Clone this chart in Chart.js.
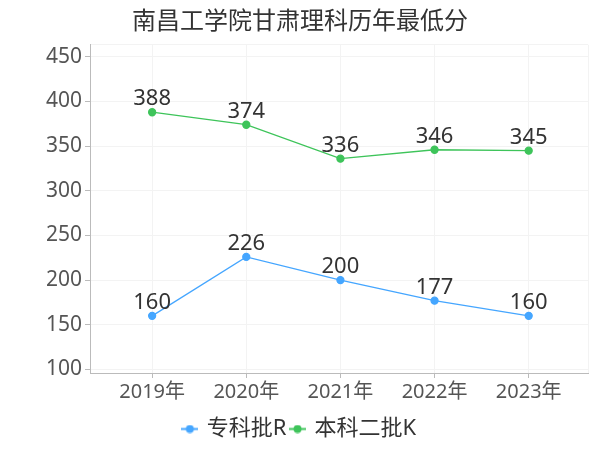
<!DOCTYPE html>
<html>
<head>
<meta charset="utf-8">
<script src="https://cdn.jsdelivr.net/npm/chart.js@4/dist/chart.umd.min.js"></script>
<style>
  html, body { margin: 0; padding: 0; background: #fff; }
  #wrap { width: 600px; height: 450px; }
</style>
</head>
<body>
<div id="wrap"><canvas id="chart" width="600" height="450"></canvas></div>
<script>
// ===== chart data =====
const years = ["2019年", "2020年", "2021年", "2022年", "2023年"];
const zhuanke = [160, 226, 200, 177, 160];   // 专科批R
const benke2 = [388, 374, 336, 346, 345];    // 本科二批K
const yTicks = [100, 150, 200, 250, 300, 350, 400, 450];

const FONT = "'Noto Sans', 'Noto Sans CJK SC', sans-serif";
const BLUE = "#45a6ff";
const GREEN = "#3ec45a";

// legend icon: short line with a dot
function legendIcon(color) {
  const c = document.createElement("canvas");
  c.width = 17; c.height = 9;
  const g = c.getContext("2d");
  g.strokeStyle = color;
  g.lineWidth = 2;
  g.beginPath(); g.moveTo(0, 4.5); g.lineTo(17, 4.5); g.stroke();
  g.fillStyle = color;
  g.beginPath(); g.arc(8.5, 4.5, 4, 0, Math.PI * 2); g.fill();
  return c;
}

// value labels above points
const valueLabels = {
  id: "valueLabels",
  afterDatasetsDraw(chart) {
    const ctx = chart.ctx;
    ctx.save();
    ctx.font = "22px " + FONT;
    ctx.fillStyle = "#333";
    ctx.textAlign = "center";
    ctx.textBaseline = "bottom";
    chart.data.datasets.forEach((ds, i) => {
      chart.getDatasetMeta(i).data.forEach((pt, j) => {
        ctx.fillText(String(ds.data[j].y), pt.x, pt.y - 2);
      });
    });
    ctx.restore();
  }
};

const toPoints = arr => arr.map((v, i) => ({ x: i, y: v }));

new Chart(document.getElementById("chart"), {
  type: "line",
  data: {
    datasets: [
      {
        label: "专科批R",
        data: toPoints(zhuanke),
        borderColor: BLUE,
        backgroundColor: BLUE,
        borderWidth: 1.3,
        pointRadius: 3.5,
        pointHoverRadius: 3.5,
        tension: 0
      },
      {
        label: "本科二批K",
        data: toPoints(benke2),
        borderColor: GREEN,
        backgroundColor: GREEN,
        borderWidth: 1.3,
        pointRadius: 3.5,
        pointHoverRadius: 3.5,
        tension: 0
      }
    ]
  },
  options: {
    responsive: false,
    animation: false,
    layout: { padding: { left: 12, right: 12, top: 0, bottom: 0 } },
    scales: {
      x: {
        type: "linear",
        min: -0.66,
        max: 4.63,
        afterBuildTicks: s => {
          s.ticks = [-0.66, 0, 1, 2, 3, 4, 4.63].map(v => ({ value: v }));
        },
        afterFit: s => { s.height = 40; },
        border: { color: "#bbb", width: 1 },
        grid: {
          color: "#f3f3f3",
          tickLength: 5,
          tickColor: c => (c.tick && Number.isInteger(c.tick.value) ? "#bbb" : "rgba(0,0,0,0)")
        },
        ticks: {
          autoSkip: false,
          maxRotation: 0,
          padding: 2,
          color: "#555",
          font: { family: FONT, size: 20 },
          callback: v => (Number.isInteger(v) ? years[v] : "")
        }
      },
      y: {
        min: 96,
        max: 463.5,
        afterBuildTicks: s => {
          s.ticks = yTicks.concat([463.5]).map(v => ({ value: v }));
        },
        afterFit: s => { s.width = 78; },
        border: { color: "#bbb", width: 1 },
        grid: {
          color: "#f3f3f3",
          tickLength: 5,
          tickColor: c => (c.tick && yTicks.includes(c.tick.value) ? "#bbb" : "rgba(0,0,0,0)")
        },
        ticks: {
          padding: 3,
          color: "#555",
          font: { family: FONT, size: 21 },
          callback: v => (yTicks.includes(v) ? String(v) : "")
        }
      }
    },
    plugins: {
      title: {
        display: true,
        text: "南昌工学院甘肃理科历年最低分",
        color: "#333",
        font: { family: FONT, size: 24, weight: "normal" },
        padding: { top: 8, bottom: 8 }
      },
      legend: {
        position: "bottom",
        labels: {
          color: "#333",
          font: { family: FONT, size: 22, lineHeight: 1 },
          usePointStyle: true,
          boxWidth: 12,
          boxHeight: 10,
          padding: 5,
          generateLabels: chart => {
            const items = Chart.defaults.plugins.legend.labels.generateLabels(chart);
            items.forEach(it => {
              it.pointStyle = legendIcon(chart.data.datasets[it.datasetIndex].borderColor);
            });
            return items;
          }
        }
      },
      tooltip: { enabled: false }
    }
  },
  plugins: [valueLabels]
});
</script>
</body>
</html>
